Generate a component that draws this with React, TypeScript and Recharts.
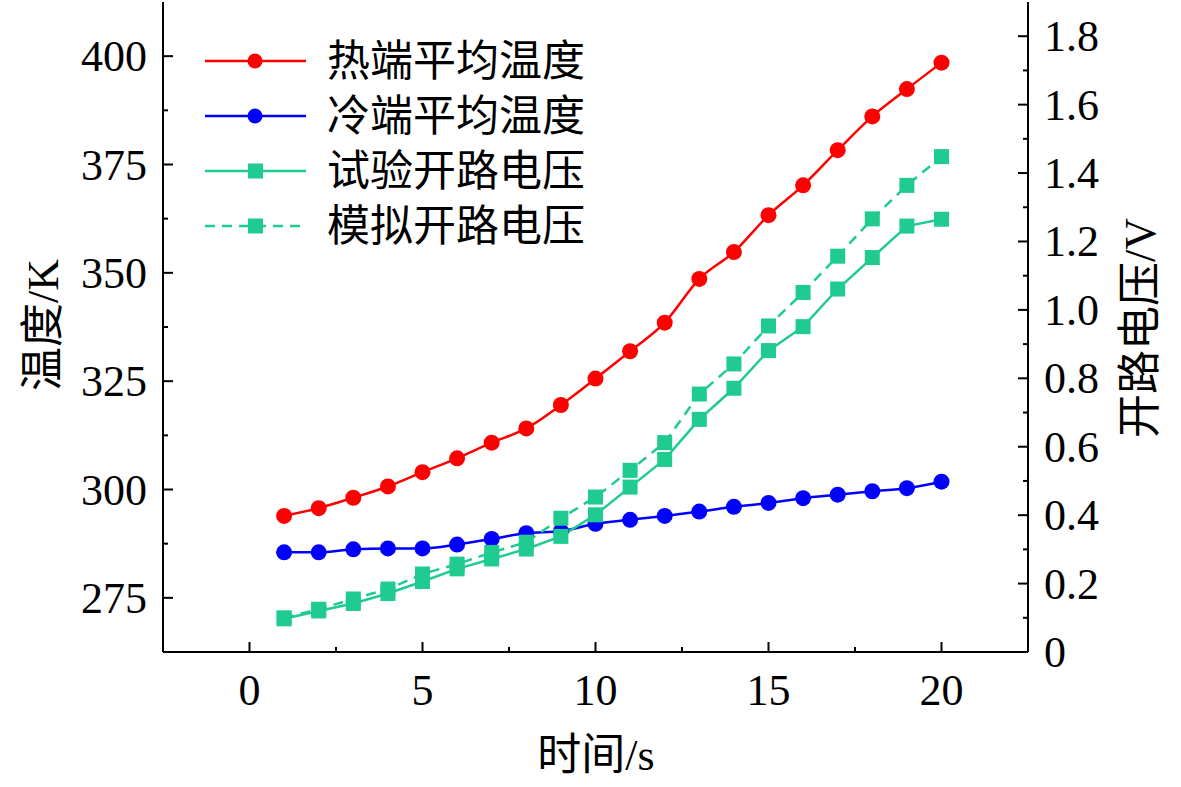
import React from 'react';
import { LineChart, Line, XAxis, YAxis, Legend, Label } from 'recharts';

// time in seconds
const times = [1, 2, 3, 4, 5, 6, 7, 8, 9, 10, 11, 12, 13, 14, 15, 16, 17, 18, 19, 20];
// hot side average temperature, K
const hotTemp = [293.9, 295.7, 298.1, 300.7, 304.0, 307.2, 310.8, 314.1, 319.5, 325.6, 331.9, 338.5, 348.6, 354.8, 363.3, 370.2, 378.3, 386.1, 392.4, 398.5];
// cold side average temperature, K
const coldTemp = [285.5, 285.5, 286.2, 286.4, 286.4, 287.3, 288.6, 289.9, 290.4, 292.1, 293.0, 293.9, 294.9, 296.0, 296.9, 298.0, 298.8, 299.6, 300.3, 301.8];
// measured open circuit voltage, V
const expVoltage = [0.097, 0.12, 0.142, 0.171, 0.206, 0.243, 0.272, 0.301, 0.338, 0.401, 0.482, 0.563, 0.68, 0.771, 0.881, 0.951, 1.061, 1.153, 1.245, 1.265];
// simulated open circuit voltage, V
const simVoltage = [0.1, 0.125, 0.155, 0.184, 0.228, 0.257, 0.291, 0.321, 0.391, 0.453, 0.531, 0.612, 0.754, 0.842, 0.953, 1.051, 1.157, 1.266, 1.364, 1.448];

const xTicks = [0, 2.5, 5, 7.5, 10, 12.5, 15, 17.5, 20];
const xLabels = [0, 5, 10, 15, 20];
const tempTicks = [275, 287.5, 300, 312.5, 325, 337.5, 350, 362.5, 375, 387.5, 400];
const tempLabels = [275, 300, 325, 350, 375, 400];
const voltTicks = [0, 0.1, 0.2, 0.3, 0.4, 0.5, 0.6, 0.7, 0.8, 0.9, 1.0, 1.1, 1.2, 1.3, 1.4, 1.5, 1.6, 1.7, 1.8];
const voltLabels = [0, 0.2, 0.4, 0.6, 0.8, 1.0, 1.2, 1.4, 1.6, 1.8];

const seriesNames = ['热端平均温度', '冷端平均温度', '试验开路电压', '模拟开路电压'];

const RED = '#ff0000';
const BLUE = '#0000ff';
const GREEN = '#1fcb8e';
const FONT = "'Liberation Serif', 'Noto Sans CJK SC', serif";
const FS = 44;
const MAJOR = 10;
const MINOR = 5;

const data = times.map((t, i) => ({
  t,
  hot: hotTemp[i],
  cold: coldTemp[i],
  exp: expVoltage[i],
  sim: simVoltage[i],
}));

const isIn = (list: number[], v: number) => list.some((l) => Math.abs(l - v) < 1e-6);

const BottomTick = ({ x, y, payload }: any) => {
  const major = isIn(xLabels, payload.value);
  return (
    <g>
      <line x1={x} x2={x} y1={y} y2={y - (major ? MAJOR : MINOR)} stroke="#000" strokeWidth={2} />
      {major && (
        <text x={x} y={y + 53} textAnchor="middle" fontSize={FS} fill="#000">
          {payload.value}
        </text>
      )}
    </g>
  );
};

const TopTick = ({ x, y, payload }: any) => {
  const major = isIn(xLabels, payload.value);
  return <line x1={x} x2={x} y1={y} y2={y + (major ? MAJOR : MINOR)} stroke="#000" strokeWidth={2} />;
};

const LeftTick = ({ x, y, payload }: any) => {
  const major = isIn(tempLabels, payload.value);
  return (
    <g>
      <line x1={x} x2={x + (major ? MAJOR : MINOR)} y1={y} y2={y} stroke="#000" strokeWidth={2} />
      {major && (
        <text x={x - 16} y={y + 15} textAnchor="end" fontSize={FS} fill="#000">
          {payload.value}
        </text>
      )}
    </g>
  );
};

const RightTick = ({ x, y, payload }: any) => {
  const v = payload.value;
  const major = isIn(voltLabels, v);
  return (
    <g>
      <line x1={x} x2={x - (major ? MAJOR : MINOR)} y1={y} y2={y} stroke="#000" strokeWidth={2} />
      {major && (
        <text x={x + 16} y={y + 15} textAnchor="start" fontSize={FS} fill="#000">
          {v === 0 ? '0' : v.toFixed(1)}
        </text>
      )}
    </g>
  );
};

const squareDot = (props: any) => {
  const { cx, cy, index, dataKey } = props;
  return <rect key={`${dataKey}-${index}`} x={cx - 7.5} y={cy - 7.5} width={15} height={15} fill={GREEN} />;
};

const LegendBox = () => {
  const rows = [
    { color: RED, shape: 'circle', dash: undefined },
    { color: BLUE, shape: 'circle', dash: undefined },
    { color: GREEN, shape: 'square', dash: undefined },
    { color: GREEN, shape: 'square', dash: '10 7' },
  ];
  return (
    <svg width={420} height={225} style={{ display: 'block', overflow: 'visible' }}>
      {rows.map((r, i) => {
        const y = 27 + i * 55;
        return (
          <g key={seriesNames[i]}>
            <line x1={0} x2={101} y1={y} y2={y} stroke={r.color} strokeWidth={2.5} strokeDasharray={r.dash} />
            {r.shape === 'circle' ? (
              <circle cx={50} cy={y} r={7.5} fill={r.color} />
            ) : (
              <rect x={43} y={y - 7.5} width={15} height={15} fill={r.color} />
            )}
            <text x={122} y={y + 15} fontSize={FS - 1} fill="#000" fontFamily={FONT}>
              {seriesNames[i]}
            </text>
          </g>
        );
      })}
    </svg>
  );
};

export default function App() {
  return (
    <div style={{ width: 1181, height: 787, fontFamily: FONT, background: '#fff' }}>
      <style>{'body{margin:0}'}</style>
      <LineChart width={1181} height={787} data={data} margin={{ top: 2, right: 0, bottom: 0, left: 0 }}>
        <XAxis
          xAxisId="bottom"
          type="number"
          dataKey="t"
          domain={[-2.5, 22.5]}
          ticks={xTicks}
          interval={0}
          height={135}
          tickSize={0}
          tickMargin={0}
          tickLine={false}
          axisLine={{ stroke: '#000', strokeWidth: 2 }}
          tick={(p: any) => <BottomTick {...p} />}
          allowDataOverflow
        >
          <Label
            content={() => (
              <text x={596} y={770} textAnchor="middle" fontSize={FS} fill="#000">
                时间/s
              </text>
            )}
          />
        </XAxis>
        <XAxis
          xAxisId="top"
          orientation="top"
          type="number"
          dataKey="t"
          domain={[-2.5, 22.5]}
          ticks={xTicks}
          interval={0}
          height={0}
          tickSize={0}
          tickMargin={0}
          tickLine={false}
          axisLine={{ stroke: '#000', strokeWidth: 2 }}
          tick={(p: any) => <TopTick {...p} />}
          allowDataOverflow
        />
        <YAxis
          yAxisId="temp"
          orientation="left"
          domain={[262.5, 412.5]}
          ticks={tempTicks}
          interval={0}
          width={163}
          tickSize={0}
          tickMargin={0}
          tickLine={false}
          axisLine={{ stroke: '#000', strokeWidth: 2 }}
          tick={(p: any) => <LeftTick {...p} />}
          allowDataOverflow
        >
          <Label
            content={() => (
              <text
                x={43}
                y={325}
                transform="rotate(-90 43 325)"
                textAnchor="middle"
                dominantBaseline="central"
                fontSize={FS}
                fill="#000"
              >
                温度/K
              </text>
            )}
          />
        </YAxis>
        <YAxis
          yAxisId="volt"
          orientation="right"
          domain={[0, 1.9]}
          ticks={voltTicks}
          interval={0}
          width={153}
          tickSize={0}
          tickMargin={0}
          tickLine={false}
          axisLine={{ stroke: '#000', strokeWidth: 2 }}
          tick={(p: any) => <RightTick {...p} />}
          allowDataOverflow
        >
          <Label
            content={() => (
              <text
                x={1140}
                y={328}
                transform="rotate(-90 1140 328)"
                textAnchor="middle"
                dominantBaseline="central"
                fontSize={FS}
                fill="#000"
              >
                开路电压/V
              </text>
            )}
          />
        </YAxis>
        <Legend
          layout="vertical"
          align="center"
          verticalAlign="middle"
          wrapperStyle={{ position: 'absolute', left: 205, top: 34, width: 420, height: 225 }}
          content={() => <LegendBox />}
        />
        <Line
          xAxisId="bottom"
          yAxisId="temp"
          dataKey="hot"
          type="monotone"
          stroke={RED}
          strokeWidth={2.5}
          dot={{ r: 8, fill: RED, stroke: RED, strokeWidth: 0 }}
          activeDot={false}
          isAnimationActive={false}
        />
        <Line
          xAxisId="bottom"
          yAxisId="temp"
          dataKey="cold"
          type="monotone"
          stroke={BLUE}
          strokeWidth={2.5}
          dot={{ r: 8, fill: BLUE, stroke: BLUE, strokeWidth: 0 }}
          activeDot={false}
          isAnimationActive={false}
        />
        <Line
          xAxisId="bottom"
          yAxisId="volt"
          dataKey="exp"
          type="linear"
          stroke={GREEN}
          strokeWidth={2.5}
          dot={squareDot}
          activeDot={false}
          isAnimationActive={false}
        />
        <Line
          xAxisId="bottom"
          yAxisId="volt"
          dataKey="sim"
          type="linear"
          stroke={GREEN}
          strokeWidth={2.5}
          strokeDasharray="10 7"
          dot={squareDot}
          activeDot={false}
          isAnimationActive={false}
        />
      </LineChart>
    </div>
  );
}
